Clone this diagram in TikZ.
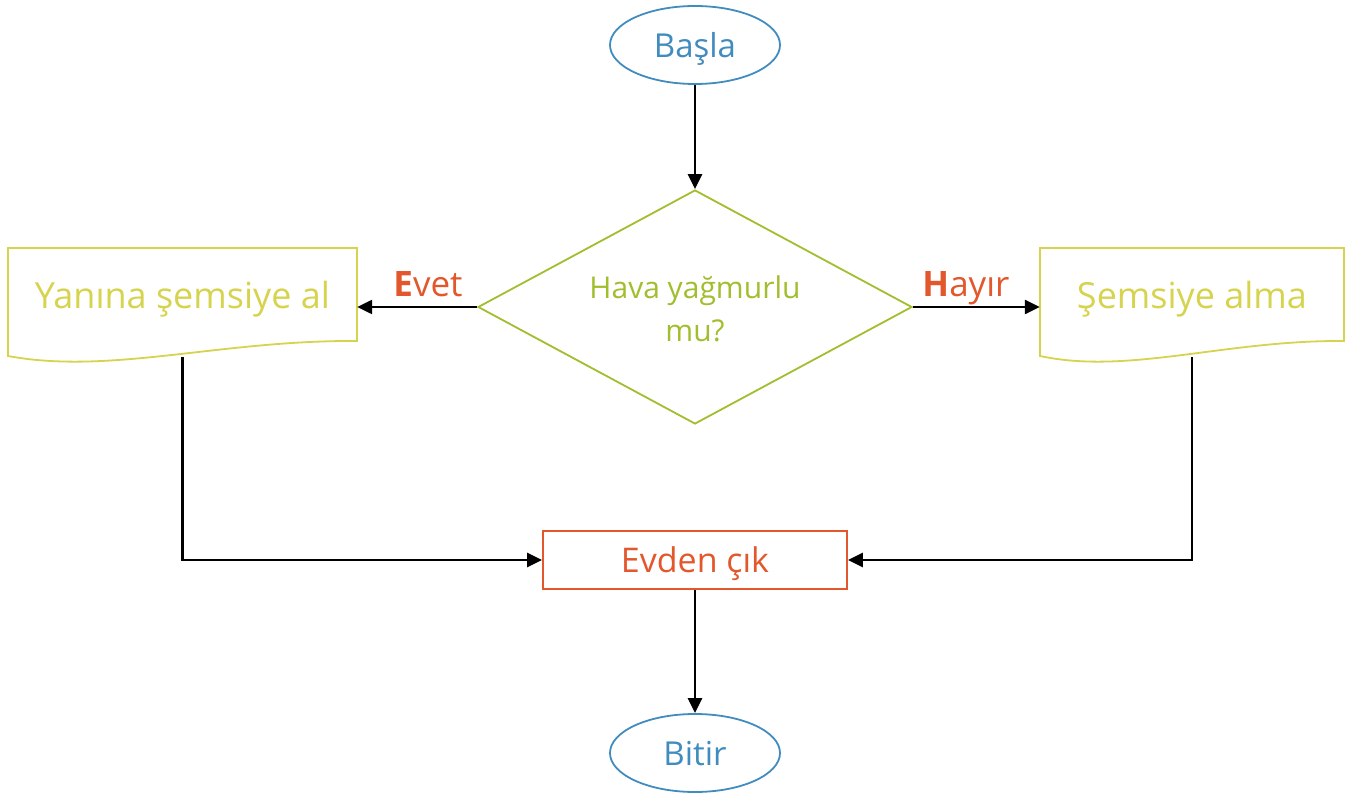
\documentclass[tikz,border=0pt]{standalone}
\usepackage{fontspec}
\setmainfont{Open Sans}
\usetikzlibrary{shapes.geometric,arrows.meta,calc}
\definecolor{cblue}{RGB}{65,140,190}
\definecolor{cgreen}{RGB}{160,190,45}
\definecolor{cyellow}{RGB}{214,211,78}
\definecolor{corange}{RGB}{226,87,44}
\tikzset{
  term/.style={ellipse,draw=cblue,line width=1.8pt,text=cblue,text depth=0pt,minimum width=170,minimum height=78,inner sep=0pt,font=\fontsize{33}{40}\selectfont},
  decide/.style={diamond,draw=cgreen,line width=1.8pt,minimum width=434,minimum height=234,inner sep=0pt},
  decidetext/.style={text=cgreen,inner sep=0pt,align=center,font=\fontsize{30}{43}\selectfont},
  docbox/.style={rectangle,inner sep=0pt},
  doctext/.style={text=cyellow,text depth=0pt,inner sep=0pt,font=\fontsize{36}{42}\selectfont},
  docline/.style={draw=cyellow,line width=1.8pt},
  procbox/.style={rectangle,draw=corange,line width=1.8pt,text=corange,text depth=0pt,minimum width=304,minimum height=58,inner sep=0pt,font=\fontsize{34}{40}\selectfont},
  flow/.style={line width=2.4pt,-{Triangle[length=15pt,width=14pt]}},
  answer/.style={text=corange,text depth=0pt,inner sep=0pt,font=\fontsize{35}{42}\selectfont}
}
\begin{document}
\begin{tikzpicture}[x=1pt,y=-1pt]
\useasboundingbox (0,0) rectangle (1353,794);
\node[term] (start) at (695,45) {Başla};
\node[decide] (q) at (695,307) {};
\node[decidetext] (qt) at (695,309) {Hava yağmurlu\\mu?};
\node[docbox,minimum width=349,minimum height=109] (yes) at (182.5,302.5) {};
\node[doctext] (yest) at (182.5,295) {Yanına şemsiye al};
\node[docbox,minimum width=304,minimum height=109] (no) at (1192,302.5) {};
\node[doctext] (not) at (1192,295) {Şemsiye alma};
\node[procbox] (out) at (695,560) {Evden çık};
\node[term] (stop) at (695,753) {Bitir};
\node[answer] (evet) at (428,284) {\textbf{E}vet};
\node[answer] (hayir) at (966,284) {\textbf{H}ayır};
% document outlines
\draw[docline] (8,356) -- (8,248) -- (357,248) -- (357,341)
  .. controls (220,340) and (110,375) .. (8,356) -- cycle;
\draw[docline] (1040,356) -- (1040,248) -- (1344,248) -- (1344,341)
  .. controls (1225,340) and (1128,375) .. (1040,356) -- cycle;
% connectors
\draw[flow] (start) -- (q);
\draw[flow] (q.west) -- (yes.east |- q.west);
\draw[flow] (q.east) -- (no.west |- q.east);
\coordinate (lc) at (yes.south |- out.west);
\coordinate (rc) at (no.south |- out.east);
\draw[flow] (yes.south) -- (lc) -- (out.west);
\draw[flow] (no.south) -- (rc) -- (out.east);
\draw[flow] (out) -- (stop);
\end{tikzpicture}
\end{document}
